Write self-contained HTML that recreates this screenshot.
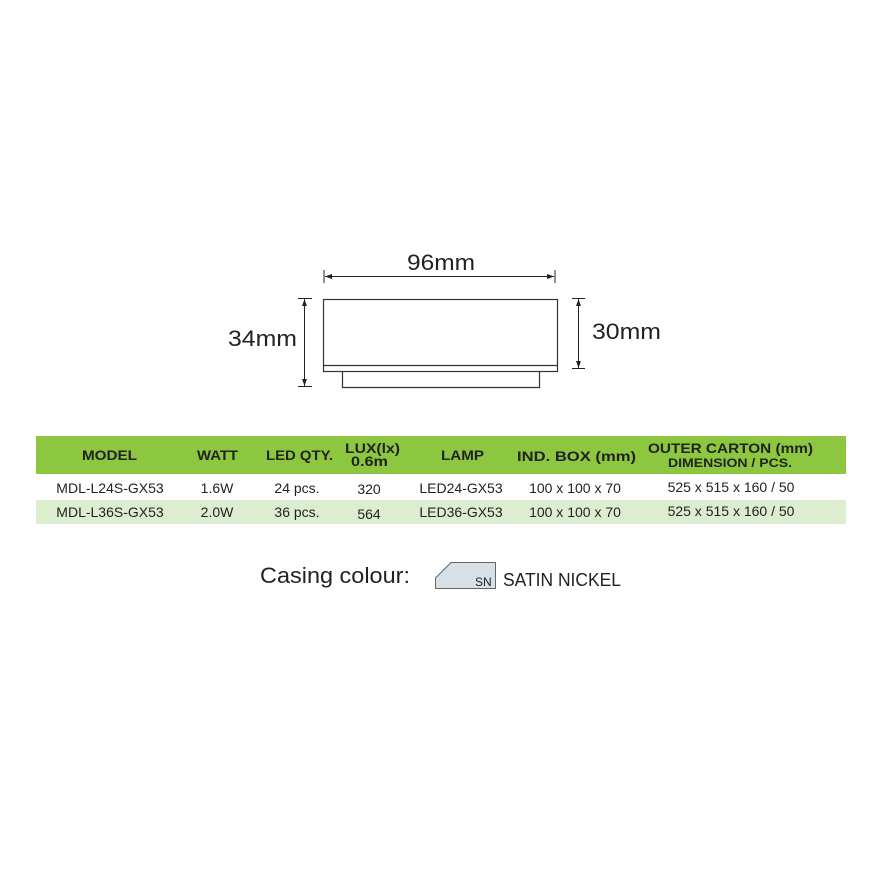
<!DOCTYPE html>
<html><head><meta charset="utf-8"><style>
html,body{margin:0;padding:0;background:#fff}
body{width:886px;height:886px;overflow:hidden;position:relative;font-family:"Liberation Sans",sans-serif}
svg{position:absolute;left:0;top:0}
</style></head><body>
<svg width="886" height="886" viewBox="0 0 886 886" xmlns="http://www.w3.org/2000/svg">
<defs>
<marker id="a" viewBox="0 0 10 10" refX="10" refY="5" markerWidth="7" markerHeight="7" orient="auto-start-reverse"><path d="M0,1.5 L10,5 L0,8.5 z" fill="#222"/></marker>
</defs>
<g stroke="#333" stroke-width="1.2" fill="none">
<rect x="323.5" y="299.5" width="234" height="72"/>
<line x1="323.5" y1="365.5" x2="557.5" y2="365.5"/>
<path d="M342.5,372 V387.5 H539.5 V372"/>
</g>
<g stroke="#222" stroke-width="1">
<line x1="324" y1="270" x2="324" y2="283"/><line x1="555" y1="270" x2="555" y2="283"/>
<line x1="325" y1="276.5" x2="554" y2="276.5" marker-start="url(#a)" marker-end="url(#a)"/>
<line x1="298" y1="298.5" x2="312" y2="298.5"/><line x1="298" y1="386.5" x2="312" y2="386.5"/>
<line x1="304.5" y1="299" x2="304.5" y2="386" marker-start="url(#a)" marker-end="url(#a)"/>
<line x1="572" y1="298.5" x2="585" y2="298.5"/><line x1="572" y1="368.5" x2="585" y2="368.5"/>
<line x1="578.5" y1="299" x2="578.5" y2="368" marker-start="url(#a)" marker-end="url(#a)"/>
</g>
<g fill="#222" font-size="22" font-family="Liberation Sans, sans-serif" lengthAdjust="spacingAndGlyphs">
<text x="407" y="270" textLength="68" lengthAdjust="spacingAndGlyphs">96mm</text>
<text x="228" y="346" textLength="69" lengthAdjust="spacingAndGlyphs">34mm</text>
<text x="592" y="339" textLength="69" lengthAdjust="spacingAndGlyphs">30mm</text>
</g>
<rect x="36" y="436" width="810" height="38" fill="#8dc63f"/>
<rect x="36" y="500" width="810" height="24" fill="#dcedd0"/>
<g fill="#222" font-weight="bold" font-size="14" font-family="Liberation Sans, sans-serif">
<text x="82" y="460" textLength="55" lengthAdjust="spacingAndGlyphs">MODEL</text>
<text x="197" y="460" textLength="41" lengthAdjust="spacingAndGlyphs">WATT</text>
<text x="266" y="460" textLength="67" lengthAdjust="spacingAndGlyphs">LED QTY.</text>
<text x="345" y="453" textLength="55" lengthAdjust="spacingAndGlyphs">LUX(lx)</text>
<text x="351" y="466" textLength="37" lengthAdjust="spacingAndGlyphs">0.6m</text>
<text x="441" y="460" textLength="43" lengthAdjust="spacingAndGlyphs">LAMP</text>
<text x="517" y="461" textLength="119" lengthAdjust="spacingAndGlyphs">IND. BOX (mm)</text>
<text x="648" y="453" textLength="165" lengthAdjust="spacingAndGlyphs">OUTER CARTON (mm)</text>
<text x="668" y="467" font-size="11.5" textLength="124" lengthAdjust="spacingAndGlyphs">DIMENSION / PCS.</text>
</g>
<g fill="#222" font-size="14" text-anchor="middle" font-family="Liberation Sans, sans-serif">
<text x="110" y="493">MDL-L24S-GX53</text>
<text x="217" y="493">1.6W</text>
<text x="297" y="493">24 pcs.</text>
<text x="369" y="494">320</text>
<text x="461" y="493">LED24-GX53</text>
<text x="575" y="493">100 x 100 x 70</text>
<text x="731" y="492">525 x 515 x 160 / 50</text>
<text x="110" y="517">MDL-L36S-GX53</text>
<text x="217" y="517">2.0W</text>
<text x="297" y="517">36 pcs.</text>
<text x="369" y="519">564</text>
<text x="461" y="517">LED36-GX53</text>
<text x="575" y="517">100 x 100 x 70</text>
<text x="731" y="516">525 x 515 x 160 / 50</text>
</g>
<text x="260" y="583" font-size="22" fill="#222" font-family="Liberation Sans, sans-serif" textLength="150" lengthAdjust="spacingAndGlyphs">Casing colour:</text>
<path d="M435.5,588.5 V578 L451,562.5 H495.5 V588.5 Z" fill="#d6e0e6" stroke="#666" stroke-width="1"/>
<text x="475" y="586" font-size="12" fill="#222" font-family="Liberation Sans, sans-serif">SN</text>
<text x="503" y="586" font-size="18" fill="#222" font-family="Liberation Sans, sans-serif" textLength="118" lengthAdjust="spacingAndGlyphs">SATIN NICKEL</text>
</svg>
</body></html>
